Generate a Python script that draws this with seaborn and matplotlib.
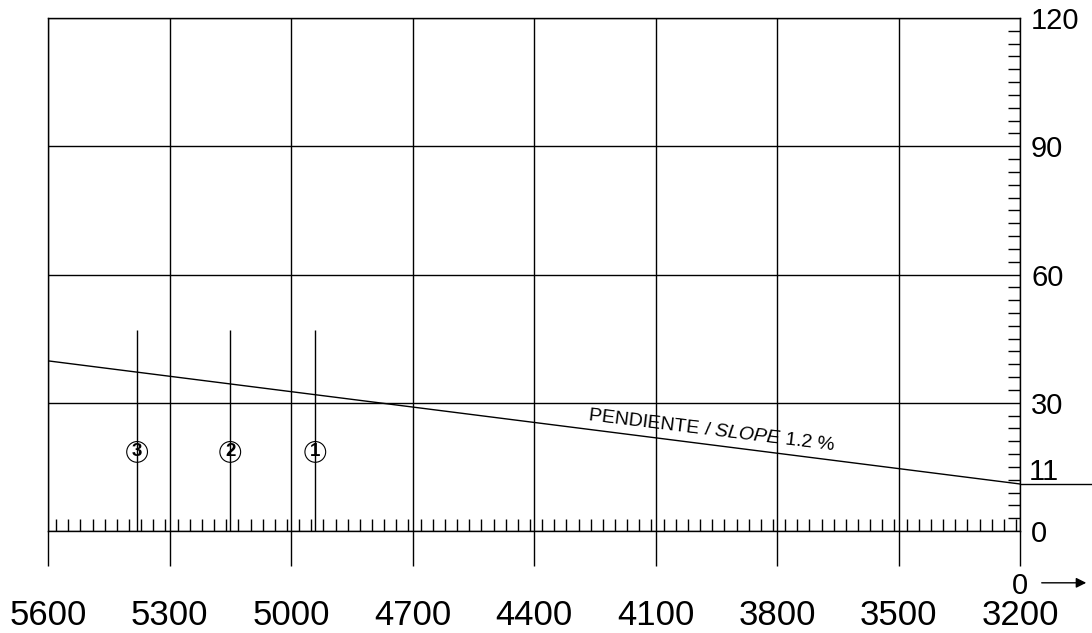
import matplotlib
matplotlib.use("Agg")
import matplotlib.pyplot as plt
import matplotlib.transforms as mtransforms
from matplotlib.ticker import MultipleLocator
import numpy as np
import seaborn as sns

# escala horizontal (de izquierda a derecha) y cotas
x_ticks = [5600, 5300, 5000, 4700, 4400, 4100, 3800, 3500, 3200]
y_ticks = [0, 30, 60, 90, 120]
y_ref = 11

# linea de pendiente 1.2 %
slope_x = [5600, 3200]
slope_y = [39.8, 11.0]
slope_label = r"PENDIENTE / $\mathit{SLOPE}$ 1.2 %"
slope_label_x = 3964

# marcas 1, 2, 3
mark_x = [4940, 5150, 5380]
mark_top = [47, 47, 47]
mark_lbl = ["1", "2", "3"]
mark_lbl_y = 18.5

sns.set_theme(style="white")
plt.rcParams["font.family"] = ["Liberation Sans", "DejaVu Sans"]
plt.rcParams["mathtext.fontset"] = "custom"
plt.rcParams["mathtext.rm"] = "Liberation Sans"
plt.rcParams["mathtext.it"] = "Liberation Sans:italic"
for k in ["text.color", "axes.labelcolor", "xtick.color", "ytick.color", "axes.edgecolor"]:
    plt.rcParams[k] = "black"

LW = 1.0
W, H = 1092, 633
fig = plt.figure(figsize=(W / 100, H / 100), dpi=100)
ax = fig.add_axes([48 / W, 1 - 531 / H, 972 / W, 513 / H])

sns.lineplot(x=slope_x, y=slope_y, color="black", lw=LW, ax=ax)
ax.vlines(mark_x, 0, mark_top, color="black", lw=LW)
for x, t in zip(mark_x, mark_lbl):
    ax.text(x, mark_lbl_y, t, ha="center", va="center", fontsize=13.5, fontweight="bold",
            bbox=dict(boxstyle="circle,pad=0.1", fc="none", ec="black", lw=0.8))

ax.set_xlim(5600, 3200)
ax.set_ylim(0, 120)

# eje x
ax.set_xticks(x_ticks)
ax.set_xticklabels([str(v) for v in x_ticks])
ax.xaxis.set_minor_locator(MultipleLocator(30))
ax.tick_params(axis="x", which="major", direction="out", length=25, width=LW, color="black",
               labelsize=25, pad=24, bottom=True, top=False)
ax.tick_params(axis="x", which="minor", direction="in", length=8.4, width=LW, color="black",
               bottom=True, top=False)

# eje y a la derecha
ax.yaxis.tick_right()
ax.set_yticks(y_ticks)
ax.yaxis.set_minor_locator(MultipleLocator(3))
ax.tick_params(axis="y", which="major", length=0, labelsize=21, pad=8,
               right=True, left=False, labelright=True, labelleft=False)
ax.tick_params(axis="y", which="minor", direction="in", length=8.6, width=LW, color="black",
               right=True, left=False)

ax.grid(True, which="major", color="black", lw=LW)
for s in ax.spines.values():
    s.set_color("black")
    s.set_linewidth(LW)

# cota 11 a la derecha
tr = mtransforms.blended_transform_factory(ax.transAxes, ax.transData)
ax.plot([1, 1.08], [y_ref, y_ref], color="black", lw=LW, transform=tr, clip_on=False)
ax.annotate(str(y_ref), xy=(1, y_ref), xycoords=tr, xytext=(6, 3), textcoords="offset points",
            ha="left", va="baseline", fontsize=21)

# rotulo de pendiente
y_at = np.interp(slope_label_x, slope_x[::-1], slope_y[::-1])
ax.annotate(slope_label, xy=(slope_label_x, y_at), xytext=(0, 4), textcoords="offset points",
            rotation=-7, rotation_mode="anchor", ha="center", va="bottom", fontsize=14)

# 0 con flecha
ax.annotate("", xy=(1.0710, -0.101), xytext=(1.0195, -0.101), xycoords="axes fraction",
            arrowprops=dict(arrowstyle="-|>", color="black", lw=1, mutation_scale=15))
ax.text(1.0, -0.101, "0", transform=ax.transAxes, ha="center", va="center_baseline", fontsize=21)

fig.savefig("out.png", dpi=100)
